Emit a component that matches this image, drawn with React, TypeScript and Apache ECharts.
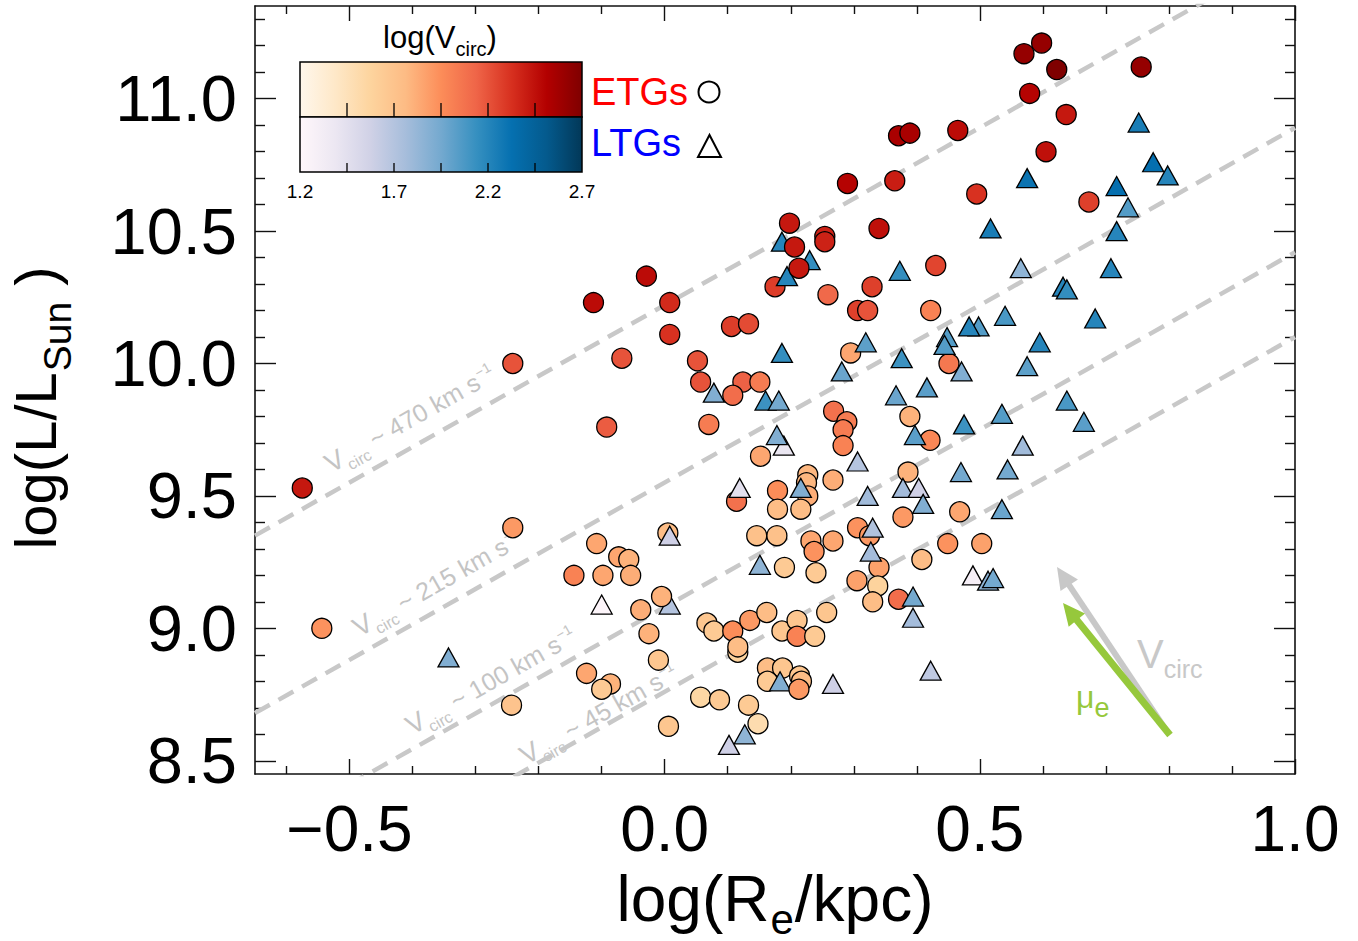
import React, { useEffect, useRef } from "react";
import * as echarts from "echarts";

const FONT = "'Liberation Sans', Arial, Helvetica, sans-serif";

// ---- axes ----
const xRange = [-0.65, 1.0];
const yRange = [8.45, 11.35];
const xMajorTicks = [-0.5, 0.0, 0.5, 1.0];
const xMinorTicks = [-0.6, -0.4, -0.3, -0.2, -0.1, 0.1, 0.2, 0.3, 0.4, 0.6, 0.7, 0.8, 0.9];
const yMajorTicks = [8.5, 9.0, 9.5, 10.0, 10.5, 11.0];
const yMinorTicks = [8.6, 8.7, 8.8, 8.9, 9.1, 9.2, 9.3, 9.4, 9.6, 9.7, 9.8, 9.9, 10.1, 10.2, 10.3, 10.4, 10.6, 10.7, 10.8, 10.9, 11.1, 11.2, 11.3];

// ---- colour scale log(Vcirc) ----
const colorRange = [1.2, 2.7];
const colorbarTicks = [1.45, 1.7, 1.95, 2.2, 2.45];
const colorbarLabels = [1.2, 1.7, 2.2, 2.7];
const etgPalette = ["#fff7ec", "#fee8c8", "#fdd49e", "#fdbb84", "#fc8d59", "#ef6548", "#d7301f", "#b30000", "#7f0000"];
const ltgPalette = ["#fff7fb", "#ece7f2", "#d0d1e6", "#a6bddb", "#74a9cf", "#3690c0", "#0570b0", "#045a8d", "#023858"];

// ---- constant-Vcirc dashed lines (y at x=-0.65 and at x=1.0) ----
const vcircLabels = ["470", "215", "100", "45"];
const vcircLineStartY = [9.35, 8.68, 8.21, 7.89];
const vcircLineEndY = [11.56, 10.89, 10.42, 10.1];

// ---- galaxies: [log(Re/kpc), log(L/Lsun), log(Vcirc)] ----
const etgGalaxies = [
  [0.57, 11.17, 2.62], [0.598, 11.21, 2.62], [0.622, 11.11, 2.7], [0.756, 11.12, 2.62],
  [0.579, 11.02, 2.5], [0.637, 10.94, 2.42], [0.465, 10.88, 2.47], [0.605, 10.8, 2.45],
  [0.495, 10.64, 2.32], [0.673, 10.61, 2.27], [0.371, 10.86, 2.55], [0.389, 10.87, 2.55],
  [0.29, 10.68, 2.5], [0.365, 10.69, 2.4], [0.198, 10.53, 2.42], [0.34, 10.51, 2.45],
  [0.254, 10.48, 2.38], [0.254, 10.46, 2.38], [-0.029, 10.33, 2.47], [0.43, 10.37, 2.25],
  [0.329, 10.29, 2.27], [0.175, 10.29, 2.28], [0.259, 10.26, 2.12], [-0.113, 10.23, 2.47],
  [0.008, 10.23, 2.35], [0.008, 10.11, 2.32], [-0.068, 10.02, 2.2], [0.052, 10.01, 2.2],
  [0.057, 9.93, 2.2], [0.106, 10.14, 2.28], [0.133, 10.15, 2.23], [0.306, 10.2, 2.27],
  [0.322, 10.2, 2.2], [0.422, 10.2, 2.0], [0.124, 9.93, 2.15], [0.151, 9.93, 2.03],
  [-0.092, 9.76, 2.17], [0.07, 9.77, 2.03], [0.295, 10.04, 1.85], [0.451, 10.0, 2.05],
  [0.268, 9.82, 2.08], [0.289, 9.78, 2.03], [0.283, 9.75, 2.03], [0.283, 9.69, 2.0],
  [0.389, 9.8, 1.8], [0.421, 9.71, 1.98], [0.152, 9.65, 1.85], [0.227, 9.58, 1.78],
  [0.225, 9.55, 1.78], [0.267, 9.56, 1.82], [0.179, 9.52, 1.95], [0.227, 9.5, 1.82],
  [0.114, 9.48, 2.08], [0.179, 9.45, 1.75], [0.216, 9.45, 1.75], [0.386, 9.59, 1.8],
  [0.378, 9.42, 1.9], [0.468, 9.44, 1.85], [0.306, 9.38, 1.93], [0.005, 9.36, 1.75],
  [-0.108, 9.32, 1.85], [0.146, 9.35, 1.72], [0.178, 9.35, 1.72], [0.232, 9.33, 1.85],
  [0.237, 9.29, 1.93], [0.267, 9.33, 1.85], [-0.073, 9.27, 1.85], [-0.057, 9.26, 1.8],
  [-0.144, 9.2, 2.0], [-0.098, 9.2, 1.85], [-0.054, 9.2, 1.82], [0.19, 9.23, 1.65],
  [0.24, 9.21, 1.65], [0.305, 9.18, 1.87], [0.325, 9.35, 1.9], [0.449, 9.32, 1.93],
  [0.503, 9.32, 1.87], [0.408, 9.26, 1.75], [0.34, 9.23, 1.87], [0.338, 9.16, 1.58],
  [0.33, 9.1, 1.75], [0.371, 9.11, 2.1], [-0.038, 9.07, 1.82], [-0.025, 8.98, 1.8],
  [-0.01, 8.88, 1.68], [-0.124, 8.83, 1.85], [-0.086, 8.79, 1.8], [-0.1, 8.77, 1.65],
  [0.067, 9.02, 1.68], [0.078, 8.99, 1.65], [0.108, 8.99, 1.95], [0.135, 9.03, 1.9],
  [0.162, 9.06, 1.75], [0.116, 8.91, 1.58], [0.116, 8.93, 1.75], [0.186, 8.99, 1.68],
  [0.21, 9.03, 1.68], [0.21, 8.97, 2.0], [0.238, 8.97, 1.65], [0.257, 9.06, 1.68],
  [0.163, 8.85, 1.75], [0.187, 8.85, 1.68], [0.163, 8.8, 1.65], [0.057, 8.74, 1.55],
  [0.087, 8.73, 1.65], [0.133, 8.71, 1.65], [0.148, 8.64, 1.5], [0.006, 8.63, 1.68],
  [-0.243, 8.71, 1.7], [-0.544, 9.0, 1.93], [-0.575, 9.53, 2.42], [-0.241, 10.0, 2.2],
  [-0.241, 9.38, 1.9],
];

// ETGs drawn above the LTG triangles
const etgFrontGalaxies = [
  [0.206, 10.44, 2.42], [0.213, 10.36, 2.42], [0.108, 9.88, 2.1], [-0.005, 9.12, 1.8],
  [0.214, 8.82, 1.68], [0.217, 8.8, 1.75], [0.213, 8.77, 1.9],
];

const ltgGalaxies = [
  [0.186, 10.46, 2.2], [0.23, 10.39, 2.15], [0.194, 10.33, 2.2], [0.373, 10.35, 2.15],
  [0.752, 10.91, 2.25], [0.775, 10.76, 2.33], [0.798, 10.71, 2.2], [0.575, 10.7, 2.3],
  [0.717, 10.67, 2.33], [0.735, 10.59, 2.05], [0.517, 10.51, 2.25], [0.717, 10.5, 2.2],
  [0.565, 10.36, 1.85], [0.708, 10.36, 2.2], [0.632, 10.29, 2.2], [0.638, 10.28, 2.15],
  [0.54, 10.18, 2.08], [0.683, 10.17, 2.2], [0.498, 10.14, 2.05], [0.483, 10.14, 2.2],
  [0.448, 10.1, 2.05], [0.444, 10.07, 2.05], [0.595, 10.08, 2.2], [0.575, 9.99, 2.02],
  [0.471, 9.97, 1.9], [0.638, 9.86, 2.08], [0.535, 9.81, 2.05], [0.665, 9.78, 2.03],
  [0.475, 9.77, 2.12], [0.568, 9.69, 1.78], [0.47, 9.59, 1.95], [0.544, 9.6, 1.95],
  [0.535, 9.45, 1.98], [0.186, 10.04, 2.15], [0.319, 10.08, 2.02], [0.281, 9.97, 1.98],
  [0.376, 10.02, 2.12], [0.367, 9.88, 1.98], [0.416, 9.91, 2.03], [0.078, 9.89, 1.9],
  [0.16, 9.86, 2.12], [0.181, 9.86, 1.95], [0.189, 9.69, 1.4], [0.178, 9.73, 1.9],
  [0.397, 9.73, 2.03], [0.306, 9.63, 1.7], [0.119, 9.53, 1.45], [0.216, 9.53, 1.9],
  [0.322, 9.5, 1.78], [0.378, 9.53, 1.77], [0.403, 9.53, 1.58], [0.41, 9.47, 1.9],
  [0.008, 9.35, 1.58], [0.33, 9.38, 1.72], [-0.1, 9.09, 1.22], [0.008, 9.09, 1.7],
  [0.151, 9.24, 1.85], [0.267, 8.79, 1.58], [0.127, 8.6, 1.85], [0.102, 8.56, 1.58],
  [0.183, 8.8, 1.9], [0.327, 9.29, 1.77], [0.394, 9.12, 1.95], [0.394, 9.04, 1.77],
  [0.422, 8.84, 1.65], [0.489, 9.2, 1.3], [0.513, 9.18, 1.85], [0.521, 9.19, 1.95],
  [-0.343, 8.89, 1.9],
];

// ---------------- option building ----------------
const AX_COLOR = "#111";
const GRID = { left: 255, right: 63, top: 6, bottom: 167 };

function xLabel(v: number) {
  return (v < 0 ? "\u2212" : "") + Math.abs(v).toFixed(1);
}

function makeXAxis(position: string, ticks: number[], len: number, withLabels: boolean, showLine: boolean) {
  const ax: any = {
    type: "value",
    position,
    min: xRange[0],
    max: xRange[1],
    splitLine: { show: false },
    axisLine: { show: showLine, onZero: false, lineStyle: { color: AX_COLOR, width: 1.6 } },
    axisTick: { show: true, inside: true, length: len, customValues: ticks, lineStyle: { color: AX_COLOR, width: 1.4 } },
    axisLabel: withLabels
      ? { show: true, customValues: xMajorTicks, formatter: xLabel, fontSize: 64, fontFamily: FONT, color: "#000", margin: 23 }
      : { show: false },
  };
  if (withLabels) {
    ax.name = "{a|log(R}{s|e}{a|/kpc)}";
    ax.nameLocation = "middle";
    ax.nameGap = 83;
    ax.nameTextStyle = {
      fontFamily: FONT,
      fontSize: 64,
      color: "#000",
      rich: {
        a: { fontSize: 64, fontFamily: FONT, color: "#000" },
        s: { fontSize: 42, fontFamily: FONT, color: "#000", padding: [41, 1, 0, 1] },
      },
    };
  }
  return ax;
}

function makeYAxis(position: string, ticks: number[], len: number, withLabels: boolean, showLine: boolean) {
  const ax: any = {
    type: "value",
    position,
    min: yRange[0],
    max: yRange[1],
    splitLine: { show: false },
    axisLine: { show: showLine, onZero: false, lineStyle: { color: AX_COLOR, width: 1.6 } },
    axisTick: { show: true, inside: true, length: len, customValues: ticks, lineStyle: { color: AX_COLOR, width: 1.4 } },
    axisLabel: withLabels
      ? { show: true, customValues: yMajorTicks, formatter: (v: number) => v.toFixed(1), fontSize: 65, fontFamily: FONT, color: "#000", margin: 18 }
      : { show: false },
  };
  if (withLabels) {
    ax.name = "{a|log(L/L}{s|Sun}{a| )}";
    ax.nameLocation = "middle";
    ax.nameRotate = 90;
    ax.nameGap = 178;
    ax.nameTextStyle = {
      fontFamily: FONT,
      fontSize: 58,
      color: "#000",
      padding: [0, 36, 0, 0],
      rich: {
        a: { fontSize: 58, fontFamily: FONT, color: "#000" },
        s: { fontSize: 39, fontFamily: FONT, color: "#000", padding: [44, 0, 0, 1] },
      },
    };
  }
  return ax;
}

function gradientFill(palette: string[]) {
  return {
    type: "linear",
    x: 0,
    y: 0,
    x2: 1,
    y2: 0,
    colorStops: palette.map((c, i) => ({ offset: i / (palette.length - 1), color: c })),
  };
}

function buildGraphics() {
  const els: any[] = [];
  const GRAY_TXT = "#c4c4c4";
  // colour bar
  const CB_X = 300, CB_Y = 62, CB_W = 282, CB_H = 55;
  const cbPos = (v: number) => CB_X + ((v - colorRange[0]) / (colorRange[1] - colorRange[0])) * CB_W;
  els.push({ type: "rect", z: 100, silent: true, shape: { x: CB_X, y: CB_Y, width: CB_W, height: CB_H }, style: { fill: gradientFill(etgPalette), stroke: "#000", lineWidth: 1.5 } });
  els.push({ type: "rect", z: 100, silent: true, shape: { x: CB_X, y: CB_Y + CB_H, width: CB_W, height: CB_H }, style: { fill: gradientFill(ltgPalette), stroke: "#000", lineWidth: 1.5 } });
  colorbarTicks.forEach((v) => {
    const x = cbPos(v);
    els.push({ type: "line", z: 101, silent: true, shape: { x1: x, y1: CB_Y + CB_H - 14, x2: x, y2: CB_Y + CB_H }, style: { stroke: "#000", lineWidth: 1.3 } });
    els.push({ type: "line", z: 101, silent: true, shape: { x1: x, y1: CB_Y + 2 * CB_H - 9, x2: x, y2: CB_Y + 2 * CB_H }, style: { stroke: "#000", lineWidth: 1.3 } });
  });
  colorbarLabels.forEach((v) => {
    els.push({ type: "text", z: 101, silent: true, x: cbPos(v), y: 191.4, style: { text: v.toFixed(1), fontSize: 19, fontFamily: FONT, fill: "#000", align: "center", verticalAlign: "middle" } });
  });
  els.push({
    type: "text", z: 101, silent: true, x: 440, y: 37.3,
    style: {
      text: "{a|log(V}{s|circ}{a|)}", align: "center", verticalAlign: "middle", fill: "#000", fontFamily: FONT, fontSize: 31,
      rich: { a: { fontSize: 31, fontFamily: FONT, fill: "#000" }, s: { fontSize: 20, fontFamily: FONT, fill: "#000", padding: [24, 0, 0, 0] } },
    },
  });
  // legend
  els.push({ type: "text", z: 101, silent: true, x: 591, y: 91.8, style: { text: "ETGs", fontSize: 38, fontFamily: FONT, fill: "#ff0000", align: "left", verticalAlign: "middle" } });
  els.push({ type: "text", z: 101, silent: true, x: 591, y: 143, style: { text: "LTGs", fontSize: 38, fontFamily: FONT, fill: "#0000ff", align: "left", verticalAlign: "middle" } });
  els.push({ type: "circle", z: 101, silent: true, shape: { cx: 709, cy: 92, r: 10.5 }, style: { fill: "none", stroke: "#000", lineWidth: 2 } });
  els.push({ type: "polygon", z: 101, silent: true, shape: { points: [[698, 157], [721, 157], [709.5, 135]] }, style: { fill: "none", stroke: "#000", lineWidth: 2 } });

  // labels along constant-Vcirc lines (baseline-left origins, shifted to text middle)
  const ang = (29.5 * Math.PI) / 180;
  const up = [-Math.sin(ang), -Math.cos(ang)];
  const starts = [[331, 473], [359, 637], [412, 735], [526, 765]];
  vcircLabels.forEach((lab, i) => {
    const [bx, by] = starts[i];
    els.push({
      type: "text", z: 1, silent: true,
      x: bx + up[0] * 8.7, y: by + up[1] * 8.7, rotation: ang,
      style: {
        text: `{v|V}{s|circ}{t| ~ ${lab} km s}{p|\u22121}`,
        align: "left", verticalAlign: "middle", fill: GRAY_TXT, fontFamily: FONT, fontSize: 25,
        rich: {
          v: { fontSize: 27, fontFamily: FONT, fill: GRAY_TXT },
          s: { fontSize: 16, fontFamily: FONT, fill: GRAY_TXT, padding: [22, 0, 0, 1] },
          t: { fontSize: 25, fontFamily: FONT, fill: GRAY_TXT },
          p: { fontSize: 14, fontFamily: FONT, fill: GRAY_TXT, padding: [0, 0, 13, 1] },
        },
      },
    });
  });

  // arrows
  const arrow = (x0: number, y0: number, tx: number, ty: number, color: string, w: number) => {
    const dx = tx - x0, dy = ty - y0;
    const L = Math.hypot(dx, dy);
    const ux = dx / L, uy = dy / L;
    const hl = 22, hw = 10.5;
    const bx = tx - ux * hl, by = ty - uy * hl;
    const px = -uy, py = ux;
    els.push({ type: "line", z: 100, silent: true, shape: { x1: x0, y1: y0, x2: bx + ux * 2, y2: by + uy * 2 }, style: { stroke: color, lineWidth: w } });
    els.push({ type: "polygon", z: 100, silent: true, shape: { points: [[tx, ty], [bx + px * hw, by + py * hw], [bx - px * hw, by - py * hw]] }, style: { fill: color } });
  };
  arrow(1168, 733, 1057, 567, "#c8c8c8", 6);
  arrow(1170, 735, 1063, 603, "#96c83c", 7);
  els.push({
    type: "text", z: 100, silent: true, x: 1137, y: 654,
    style: {
      text: "{a|V}{s|circ}", align: "left", verticalAlign: "middle", fill: "#c8c8c8", fontFamily: FONT, fontSize: 40,
      rich: { a: { fontSize: 40, fontFamily: FONT, fill: "#c8c8c8" }, s: { fontSize: 25, fontFamily: FONT, fill: "#c8c8c8", padding: [30, 0, 0, 0] } },
    },
  });
  els.push({
    type: "text", z: 100, silent: true, x: 1076, y: 697,
    style: {
      text: "{a|\u03bc}{s|e}", align: "left", verticalAlign: "middle", fill: "#96c83c", fontFamily: FONT, fontSize: 32,
      rich: { a: { fontSize: 32, fontFamily: FONT, fill: "#96c83c" }, s: { fontSize: 27, fontFamily: FONT, fill: "#96c83c", padding: [21, 0, 0, 0] } },
    },
  });
  return els;
}

function buildOption() {
  const pointStyle = { borderColor: "#000", borderWidth: 1.3, opacity: 1 };
  const lineSeries = vcircLabels.map((lab, i) => ({
    type: "line",
    name: `Vcirc ${lab}`,
    data: [[xRange[0], vcircLineStartY[i]], [xRange[1], vcircLineEndY[i]]],
    showSymbol: false,
    symbol: "none",
    clip: true,
    silent: true,
    z: 1,
    lineStyle: { color: "#c8c8c8", width: 4.5, type: [17, 10] },
  }));
  return {
    animation: false,
    backgroundColor: "#ffffff",
    grid: { ...GRID, containLabel: false, outerBoundsMode: "none" },
    xAxis: [
      makeXAxis("bottom", xMajorTicks, 15, true, true),
      makeXAxis("bottom", xMinorTicks, 8, false, false),
      makeXAxis("top", xMajorTicks, 15, false, true),
      makeXAxis("top", xMinorTicks, 8, false, false),
    ],
    yAxis: [
      makeYAxis("left", yMajorTicks, 21, true, true),
      makeYAxis("left", yMinorTicks, 10, false, false),
      makeYAxis("right", yMajorTicks, 21, false, true),
      makeYAxis("right", yMinorTicks, 10, false, false),
    ],
    visualMap: [
      { type: "continuous", show: false, min: colorRange[0], max: colorRange[1], dimension: 2, seriesIndex: [4, 6], inRange: { color: etgPalette } },
      { type: "continuous", show: false, min: colorRange[0], max: colorRange[1], dimension: 2, seriesIndex: [5], inRange: { color: ltgPalette } },
    ],
    series: [
      ...lineSeries,
      { type: "scatter", name: "ETGs", data: etgGalaxies, symbol: "circle", symbolSize: 20, itemStyle: pointStyle, z: 3 },
      { type: "scatter", name: "LTGs", data: ltgGalaxies, symbol: "triangle", symbolSize: [21, 19], itemStyle: pointStyle, z: 4 },
      { type: "scatter", name: "ETGs front", data: etgFrontGalaxies, symbol: "circle", symbolSize: 20, itemStyle: pointStyle, z: 5 },
    ],
    graphic: { elements: buildGraphics() },
  };
}

export default function App() {
  const ref = useRef<HTMLDivElement>(null);
  useEffect(() => {
    if (!ref.current) return;
    const chart = echarts.init(ref.current, null, { renderer: "svg" });
    chart.setOption(buildOption() as any);
    return () => chart.dispose();
  }, []);
  return (
    <div
      ref={ref}
      style={{ position: "fixed", left: 0, top: 0, width: 1358, height: 941, background: "#fff" }}
    />
  );
}
